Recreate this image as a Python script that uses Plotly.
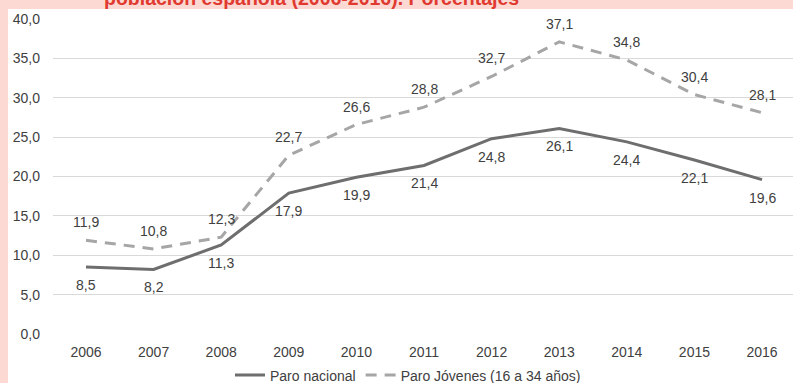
import plotly.graph_objects as go

years = ["2006", "2007", "2008", "2009", "2010", "2011", "2012", "2013", "2014", "2015", "2016"]
paro_nacional = [8.5, 8.2, 11.3, 17.9, 19.9, 21.4, 24.8, 26.1, 24.4, 22.1, 19.6]
paro_jovenes = [11.9, 10.8, 12.3, 22.7, 26.6, 28.8, 32.7, 37.1, 34.8, 30.4, 28.1]
y_ticks = [0, 5, 10, 15, 20, 25, 30, 35, 40]

W, H = 793, 383
ML, MR, MT, MB = 53, 0, 19, 49
PW = W - ML - MR
PH = H - MT - MB

text_color = "#404040"
font_family = "Liberation Sans, Arial, sans-serif"
pink = "#fcd9d3"

fig = go.Figure()
x_idx = list(range(len(years)))

fig.add_trace(go.Scatter(
    x=x_idx, y=paro_nacional, mode="lines", name="Paro nacional",
    line=dict(color="#6e6e6e", width=3),
))
fig.add_trace(go.Scatter(
    x=x_idx, y=paro_jovenes, mode="lines", name="Paro Jóvenes (16 a 34 años)",
    line=dict(color="#a6a6a6", width=3, dash="11px,8px"),
))

annotations = []
for i, v in enumerate(paro_nacional):
    annotations.append(dict(x=i, y=v, xref="x", yref="y", text=f"{v:.1f}".replace(".", ","),
                            showarrow=False, yshift=-18, yanchor="middle",
                            font=dict(size=14, color=text_color, family=font_family)))
for i, v in enumerate(paro_jovenes):
    annotations.append(dict(x=i, y=v, xref="x", yref="y", text=f"{v:.1f}".replace(".", ","),
                            showarrow=False, yshift=18, yanchor="middle",
                            font=dict(size=14, color=text_color, family=font_family)))

# Title line sitting in the pink header band
annotations.append(dict(
    x=(311 - ML) / PW, y=1, xref="paper", yref="paper", yanchor="bottom", xanchor="center",
    yshift=8, showarrow=False,
    text="<b>población española (2006-2016). Porcentajes</b>",
    font=dict(size=19.5, color="#e03a30", family=font_family),
))

shapes = [
    # white card over the pink page background
    dict(type="rect", xref="paper", yref="paper", layer="below",
         x0=(8 - ML) / PW, x1=(W - ML) / PW + 0.05,
         y0=-MB / PH - 0.05, y1=1 + (MT - 9) / PH,
         fillcolor="white", line=dict(width=0)),
]

fig.update_layout(
    width=W, height=H,
    margin=dict(l=ML, r=MR, t=MT, b=MB, autoexpand=False),
    paper_bgcolor=pink, plot_bgcolor="white",
    separators=",.",
    font=dict(family=font_family, size=14, color=text_color),
    showlegend=True,
    legend=dict(orientation="h", x=408 / W, xanchor="center", xref="container",
                y=1 - 375.5 / H, yanchor="middle", yref="container",
                itemwidth=30, tracegroupgap=0,
                font=dict(size=14, color=text_color), bgcolor="rgba(0,0,0,0)"),
    annotations=annotations,
    shapes=shapes,
)
fig.update_xaxes(
    range=[-0.488, 10.458], tickmode="array", tickvals=x_idx, ticktext=years,
    showgrid=False, zeroline=False, showline=False, ticks="",
    ticklabelstandoff=8, tickfont=dict(size=14, color=text_color),
)
fig.update_yaxes(
    range=[0, 40], tickmode="array", tickvals=y_ticks, tickformat=".1f",
    showgrid=True, gridcolor="#d9d9d9", gridwidth=1, zeroline=False, showline=False,
    ticks="", ticklabelstandoff=12, tickfont=dict(size=14, color=text_color),
)

fig.write_html("out.html")
